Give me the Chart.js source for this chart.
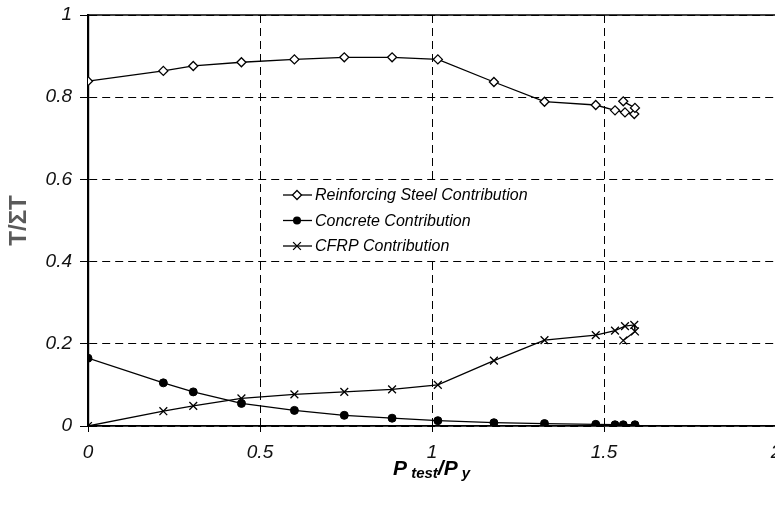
<!DOCTYPE html>
<html>
<head>
<meta charset="utf-8">
<script src="https://cdn.jsdelivr.net/npm/chart.js@4.4.1/dist/chart.umd.min.js"></script>
<style>
  html, body { margin: 0; padding: 0; background: #fff; overflow: hidden; width: 775px; height: 510px; }
  #wrap { position: relative; width: 800px; height: 510px; }
  #xtitle { position: absolute; left: 393px; top: 456px; font: italic bold 21px "Liberation Sans", Arial, sans-serif; color: #000; white-space: nowrap; }
  #xtitle sub { font-size: 15px; vertical-align: baseline; position: relative; top: 3px; }
</style>
</head>
<body>
<div id="wrap">
  <canvas id="c" width="800" height="510"></canvas>
  <div id="xtitle">P<sub>&nbsp;test</sub>/P<sub>&nbsp;y</sub></div>
</div>
<script>
// P_test / P_y ratios (shared by the three contributions)
const loadRatio = [0, 0.219, 0.306, 0.446, 0.600, 0.745, 0.884, 1.017, 1.180, 1.327, 1.476, 1.532, 1.561, 1.588, 1.590, 1.556];
const steelShare = [0.839, 0.864, 0.876, 0.885, 0.892, 0.897, 0.897, 0.892, 0.837, 0.789, 0.781, 0.768, 0.763, 0.759, 0.774, 0.790];
const cfrpShare  = [0, 0.036, 0.049, 0.067, 0.077, 0.083, 0.089, 0.100, 0.159, 0.209, 0.221, 0.232, 0.243, 0.246, 0.230, 0.208];
const concreteRatio = [0, 0.219, 0.306, 0.446, 0.600, 0.745, 0.884, 1.017, 1.180, 1.327, 1.476, 1.532, 1.556, 1.590];
const concreteShare = [0.165, 0.105, 0.083, 0.055, 0.038, 0.026, 0.019, 0.013, 0.008, 0.006, 0.004, 0.003, 0.003, 0.003];
const seriesNames = ['Reinforcing Steel Contribution', 'Concrete Contribution', 'CFRP Contribution'];
const xTicks = [0, 0.5, 1, 1.5, 2];
const yTicks = [0, 0.2, 0.4, 0.6, 0.8, 1];

const pts = (xs, ys) => xs.map((x, i) => ({ x: x, y: ys[i] }));
const FONT = '"Liberation Sans", Arial, sans-serif';

const datasets = [
  { label: seriesNames[0], data: pts(loadRatio, steelShare), pointStyle: 'rectRot', pointRadius: 4.5,
    pointBackgroundColor: '#fff', pointBorderColor: '#000', pointBorderWidth: 1.3 },
  { label: seriesNames[1], data: pts(concreteRatio, concreteShare), pointStyle: 'circle', pointRadius: 4,
    pointBackgroundColor: '#000', pointBorderColor: '#000', pointBorderWidth: 1 },
  { label: seriesNames[2], data: pts(loadRatio, cfrpShare), pointStyle: 'crossRot', pointRadius: 5.5,
    pointBackgroundColor: '#000', pointBorderColor: '#000', pointBorderWidth: 1.3 }
].map(d => Object.assign({ showLine: true, borderColor: '#000', borderWidth: 1.3, backgroundColor: '#000', tension: 0 }, d));

function drawMarker(ctx, style, x, y) {
  ctx.save();
  ctx.strokeStyle = '#000'; ctx.lineWidth = 1.3;
  if (style === 'rectRot') {
    const r = 4.5;
    ctx.fillStyle = '#fff';
    ctx.beginPath(); ctx.moveTo(x, y - r); ctx.lineTo(x + r, y); ctx.lineTo(x, y + r); ctx.lineTo(x - r, y); ctx.closePath();
    ctx.fill(); ctx.stroke();
  } else if (style === 'circle') {
    ctx.fillStyle = '#000';
    ctx.beginPath(); ctx.arc(x, y, 4, 0, Math.PI * 2); ctx.fill();
  } else {
    const o = 5.5 * Math.cos(Math.PI / 4);
    ctx.beginPath(); ctx.moveTo(x - o, y - o); ctx.lineTo(x + o, y + o); ctx.moveTo(x - o, y + o); ctx.lineTo(x + o, y - o); ctx.stroke();
  }
  ctx.restore();
}

const extras = {
  id: 'extras',
  afterDraw(chart) {
    const ctx = chart.ctx, a = chart.chartArea;
    // solid top frame line
    ctx.save();
    ctx.strokeStyle = '#000'; ctx.lineWidth = 1.3;
    ctx.beginPath(); ctx.moveTo(a.left, a.top); ctx.lineTo(a.right, a.top); ctx.stroke();
    ctx.restore();
    // legend inside the plot, on a white box that hides the grid
    const lx = 283, ly = 195, gap = 25.5;
    ctx.save();
    ctx.fillStyle = '#fff';
    ctx.fillRect(272, 182, 266, 75);
    ctx.restore();
    chart.data.datasets.forEach((ds, i) => {
      const y = ly + i * gap;
      ctx.save();
      ctx.strokeStyle = '#000'; ctx.lineWidth = 1.3;
      ctx.beginPath(); ctx.moveTo(lx, y); ctx.lineTo(lx + 29, y); ctx.stroke();
      ctx.restore();
      drawMarker(ctx, ds.pointStyle, lx + 14, y);
      ctx.save();
      ctx.fillStyle = '#000';
      ctx.font = 'italic 16px ' + FONT;
      ctx.textBaseline = 'middle';
      ctx.fillText(ds.label, lx + 32, y + 1);
      ctx.restore();
    });
  }
};

new Chart(document.getElementById('c'), {
  type: 'scatter',
  data: { datasets: datasets },
  options: {
    responsive: false,
    animation: false,
    layout: { padding: { top: 15, right: 24, bottom: 0, left: 0 } },
    plugins: { legend: { display: false }, tooltip: { enabled: false } },
    scales: {
      x: {
        type: 'linear', min: 0, max: 2,
        afterBuildTicks: s => { s.ticks = xTicks.map(v => ({ value: v })); },
        afterFit: s => { s.height = 84; },
        ticks: { font: { family: FONT, size: 19, style: 'italic' }, color: '#111', padding: 9,
                 callback: v => String(v) },
        grid: { color: '#000', lineWidth: 1, tickLength: 6, tickColor: '#000', tickWidth: 1 },
        border: { display: true, color: '#000', width: 1.8, dash: [8, 5] },
        title: { display: false }
      },
      y: {
        type: 'linear', min: 0, max: 1,
        afterBuildTicks: s => { s.ticks = yTicks.map(v => ({ value: v })); },
        afterFit: s => { s.width = 88; s.paddingTop = 0; s.paddingBottom = 0; },
        ticks: { font: { family: FONT, size: 19, style: 'italic', lineHeight: 0.9 }, color: '#111', padding: 8,
                 callback: v => String(v) },
        grid: { color: '#000', lineWidth: 1, tickLength: 8, tickColor: '#000', tickWidth: 1 },
        border: { display: true, color: '#000', width: 2.2, dash: [8, 5] },
        title: { display: true, text: 'T/ΣT', color: '#5a5a5a', font: { family: FONT, size: 24, weight: 'bold' },
                 padding: { top: 5, bottom: 0 } }
      }
    }
  },
  plugins: [extras]
});
</script>
</body>
</html>
